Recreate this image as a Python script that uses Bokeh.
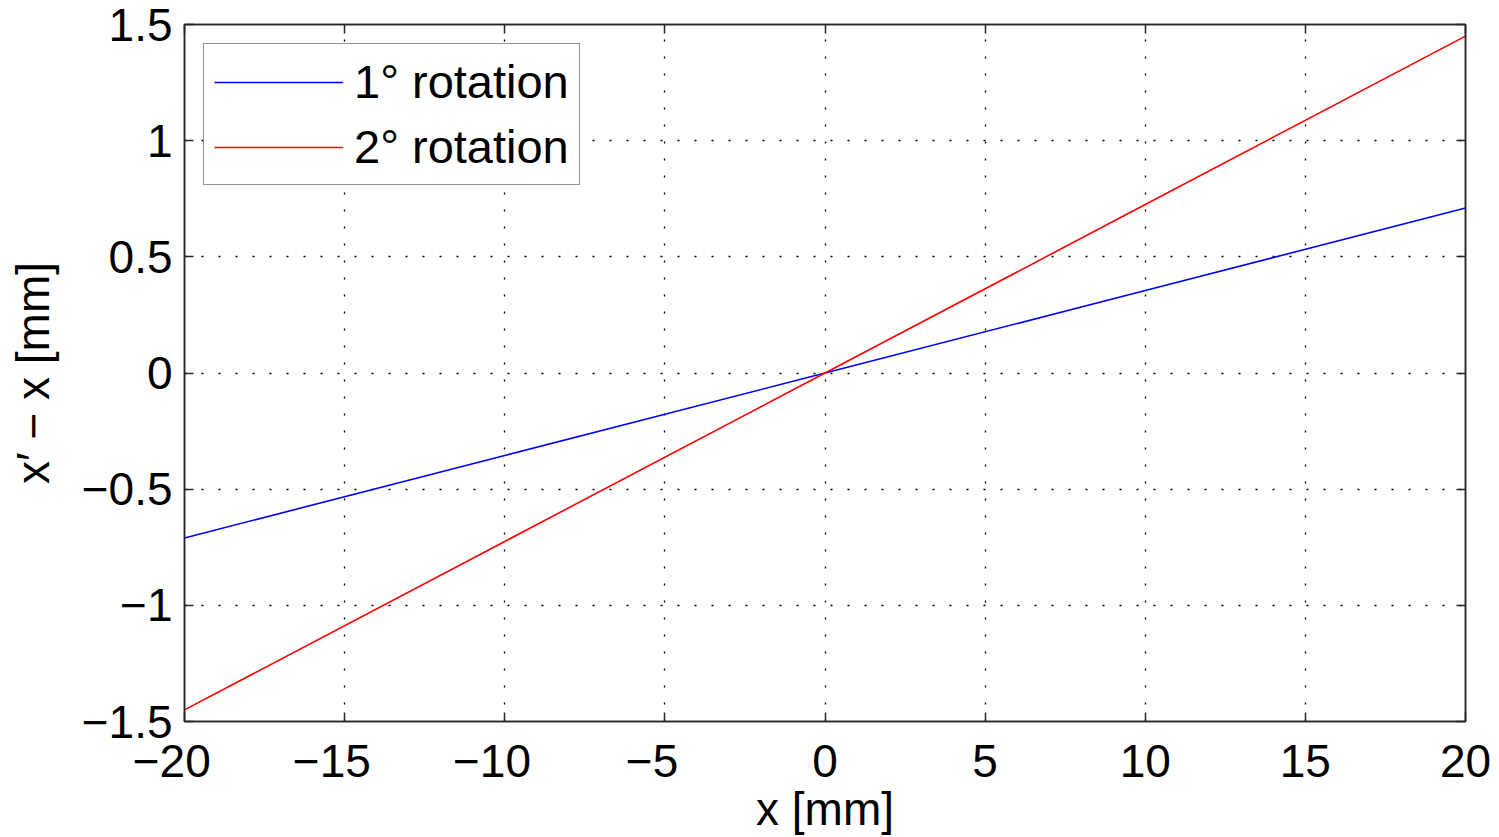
from bokeh.plotting import figure
from bokeh.models import LinearAxis, FixedTicker, Range1d, Legend, LegendItem, Grid
from bokeh.embed import file_html
from bokeh.resources import INLINE

# data
x_mm = [-20, -10, 0, 10, 20]
rot1_dev = [-0.71, -0.355, 0.0, 0.355, 0.71]
rot2_dev = [-1.45, -0.725, 0.0, 0.725, 1.45]
series_labels = ["1\u00b0 rotation", "2\u00b0 rotation"]
x_ticks = [-20, -15, -10, -5, 0, 5, 10, 15, 20]
y_ticks = [-1.5, -1, -0.5, 0, 0.5, 1, 1.5]
x_label = "x [mm]"
y_label = "x\u2032 \u2212 x [mm]"

FONT = "Liberation Sans"
FS = "46px"
AX = "#262626"


def fmt(v, pad=False):
    s = ("%g" % abs(v))
    if v < 0:
        return "\u2212" + s + ("\u2007" if pad else "")
    return s


p = figure(width=1499, height=837, output_backend="svg", toolbar_location=None,
           x_range=Range1d(-20, 20), y_range=Range1d(-1.5, 1.5),
           min_border_left=184, min_border_right=34, min_border_top=24,
           min_border_bottom=116, x_axis_location=None, y_axis_location=None)

p.outline_line_color = AX
p.outline_line_width = 1.5
p.background_fill_color = "white"
p.border_fill_color = "white"


def make_axis(ticks, show_labels, label=None, pad=False):
    ax = LinearAxis(ticker=FixedTicker(ticks=ticks))
    ax.major_tick_in = 9
    ax.major_tick_out = 0
    ax.minor_tick_in = 0
    ax.minor_tick_out = 0
    ax.axis_line_color = AX
    ax.axis_line_width = 1.5
    ax.major_tick_line_color = AX
    ax.major_tick_line_width = 1.5
    if show_labels:
        ax.major_label_overrides = {t: fmt(t, pad) for t in ticks}
        ax.major_label_text_font = FONT
        ax.major_label_text_font_size = FS
        ax.major_label_text_color = "black"
        ax.major_label_standoff = 12
    else:
        ax.major_label_overrides = {t: "" for t in ticks}
        ax.major_label_text_font_size = "1px"
        ax.major_label_standoff = 0
    if label:
        ax.axis_label = label
        ax.axis_label_text_font = FONT
        ax.axis_label_text_font_size = FS
        ax.axis_label_text_font_style = "normal"
        ax.axis_label_text_color = "black"
    return ax


xb = make_axis(x_ticks, True, x_label, pad=True)
xb.major_label_standoff = 13
xb.axis_label_standoff = -7
yl = make_axis(y_ticks, True, y_label)
yl.axis_label_standoff = 20
xt = make_axis(x_ticks, False)
yr = make_axis(y_ticks, False)
p.add_layout(xb, "below")
p.add_layout(yl, "left")
p.add_layout(xt, "above")
p.add_layout(yr, "right")

p.xgrid.visible = False
p.ygrid.visible = False
for dim, t in ((0, x_ticks), (1, y_ticks)):
    g = Grid(dimension=dim, ticker=FixedTicker(ticks=t))
    g.grid_line_color = "black"
    g.grid_line_width = 1.3
    g.grid_line_dash = "2 15"
    p.add_layout(g)

r1 = p.line(x_mm, rot1_dev, line_color="#0000ff", line_width=1.6)
r2 = p.line(x_mm, rot2_dev, line_color="#ff0000", line_width=1.6)

legend = Legend(items=[LegendItem(label=series_labels[0], renderers=[r1]),
                       LegendItem(label=series_labels[1], renderers=[r2])],
                location="top_left")
legend.margin = 19
legend.padding = 10
legend.spacing = 10
legend.glyph_width = 129
legend.glyph_height = 52
legend.label_height = 52
legend.label_standoff = 11
legend.label_text_font = FONT
legend.label_text_font_size = "47px"
legend.label_text_color = "black"
legend.border_line_color = AX
legend.border_line_width = 1.5
legend.background_fill_color = "white"
legend.background_fill_alpha = 1
p.add_layout(legend)

open("out.html", "w").write(file_html(p, INLINE))
